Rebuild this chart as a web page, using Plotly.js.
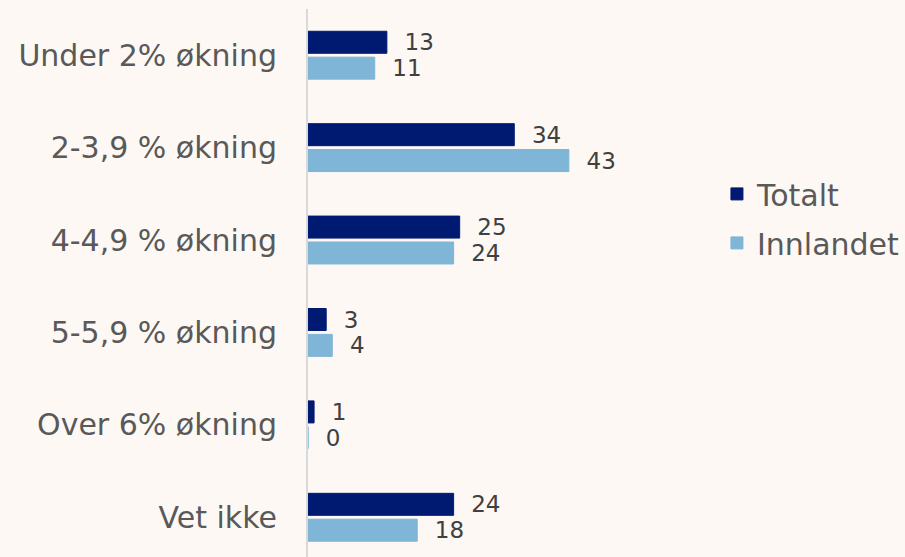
<!DOCTYPE html>
<html>
<head>
<meta charset="utf-8">
<script src="https://cdn.plot.ly/plotly-3.0.1.min.js"></script>
<style>html,body{margin:0;padding:0;background:#fdf8f4;}#chart{width:905px;height:557px;}</style>
</head>
<body>
<div id="chart"></div>
<script>
const categories = ["Under 2% økning", "2-3,9 % økning", "4-4,9 % økning", "5-5,9 % økning", "Over 6% økning", "Vet ikke"];
const totalt = [13, 34, 25, 3, 1, 24];
const innlandet = [11, 43, 24, 4, 0, 18];
const seriesNames = ["Totalt", "Innlandet"];
const colors = ["#001a72", "#7fb5d6"];
const FONT = "DejaVu Sans, sans-serif";

const mk = (vals, i) => ({
  type: "bar",
  orientation: "h",
  name: seriesNames[i],
  legendgroup: "g" + i,
  x: vals,
  y: categories,
  marker: {color: colors[i], line: {color: colors[i], width: 1}},
  text: vals.map(v => "  " + v),
  textposition: "outside",
  constraintext: "none",
  cliponaxis: false,
  textfont: {family: FONT, size: 23, color: "#404040"},
  hoverinfo: "skip"
});

const data = [mk(totalt, 0), mk(innlandet, 1)];

const layout = {
  width: 905, height: 557,
  paper_bgcolor: "#fdf8f4", plot_bgcolor: "#fdf8f4",
  margin: {l: 308, r: 0, t: 9, b: 0},
  barmode: "group",
  bargap: 0.44,
  bargroupgap: 0.15,
  font: {family: FONT, color: "#595959"},
  xaxis: {range: [0, 98.4], showgrid: false, zeroline: false, showticklabels: false, showline: false, fixedrange: true},
  yaxis: {
    range: [5.43, -0.5],
    showgrid: false, zeroline: false,
    showline: true, linecolor: "#d9d9d9", linewidth: 2,
    ticks: "", ticklabelstandoff: 23,
    tickfont: {size: 30, color: "#595959"}
  },
  showlegend: true,
  legend: {
    x: 0.685, y: 0.71, xanchor: "left", yanchor: "top",
    font: {size: 30, color: "#595959"},
    bgcolor: "rgba(0,0,0,0)",
    tracegroupgap: 7
  }
};

Plotly.newPlot("chart", data, layout, {displayModeBar: false, staticPlot: true});
</script>
</body>
</html>
